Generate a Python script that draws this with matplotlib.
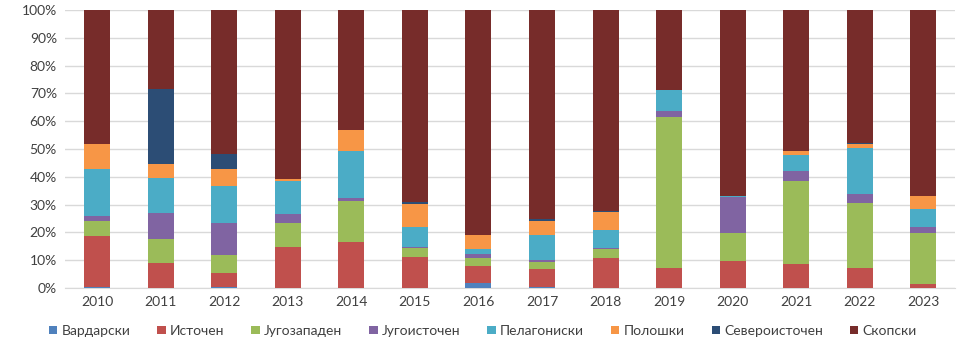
import matplotlib
matplotlib.use("Agg")
import matplotlib.pyplot as plt
import numpy as np

years = ["2010", "2011", "2012", "2013", "2014", "2015", "2016",
         "2017", "2018", "2019", "2020", "2021", "2022", "2023"]

vardarski     = [0.3, 0.0, 0.3, 0.0, 0.0, 0.0, 1.7, 0.3, 0.0, 0.0, 0.0, 0.0, 0.0, 0.0]
istochen      = [18.6, 9.1, 5.0, 14.9, 16.5, 11.3, 6.3, 6.4, 11.0, 7.4, 9.6, 8.6, 7.1, 1.6]
jugozapaden   = [5.2, 8.4, 6.5, 8.5, 14.7, 3.0, 3.0, 2.8, 3.1, 54.2, 10.1, 29.8, 23.7, 18.1]
jugoistochen  = [1.8, 9.6, 11.6, 3.1, 1.2, 0.6, 1.2, 0.6, 0.4, 2.2, 12.9, 3.8, 3.1, 2.1]
pelagoniski   = [16.9, 12.6, 13.3, 12.0, 17.0, 6.9, 1.7, 9.0, 6.5, 7.4, 0.5, 5.5, 16.6, 6.5]
poloshki      = [9.1, 4.9, 6.3, 0.9, 7.3, 8.4, 5.3, 4.9, 6.5, 0.0, 0.0, 1.7, 1.5, 4.8]
severoistochen = [0.0, 27.0, 5.1, 0.0, 0.0, 0.9, 0.0, 0.7, 0.3, 0.0, 0.0, 0.0, 0.2, 0.0]
skopski       = [48.1, 28.4, 51.9, 60.6, 43.3, 68.9, 80.8, 75.3, 72.2, 28.8, 66.9, 50.6, 48.0, 66.9]

series_names = ["Вардарски", "Источен", "Југозападен", "Југоисточен",
                "Пелагониски", "Полошки", "Североисточен", "Скопски"]
series_values = [vardarski, istochen, jugozapaden, jugoistochen,
                 pelagoniski, poloshki, severoistochen, skopski]
colors = ["#4F81BD", "#C0504D", "#9BBB59", "#8064A2",
          "#4BACC6", "#F79646", "#2C4D75", "#772C2A"]

plt.rcParams['font.family'] = ['Lato', 'DejaVu Sans']

fig = plt.figure(figsize=(9.6, 3.57), dpi=100)
ax = fig.add_axes([0.068, 0.193, 0.927, 0.779])

x = np.arange(len(years))
data = np.array(series_values, dtype=float)
totals = data.sum(axis=0)
pct = data / totals * 100
bottom = np.zeros(len(years))
for name, vals, c in zip(series_names, pct, colors):
    ax.bar(x, vals, bottom=bottom, width=0.41, color=c, label=name, zorder=3)
    bottom += vals

ax.set_ylim(0, 100)
ax.set_xlim(-0.5, len(years) - 0.5)
ax.set_yticks(np.arange(0, 101, 10))
ax.set_yticklabels([f"{v}%" for v in range(0, 101, 10)], fontsize=10, color="#404040")
ax.set_xticks(x)
ax.set_xticklabels(years, fontsize=10, color="#404040")
ax.yaxis.grid(True, color="#D9D9D9", linewidth=1, zorder=0)
ax.set_axisbelow(True)
for s in ["top", "right", "left"]:
    ax.spines[s].set_visible(False)
ax.spines["bottom"].set_color("#D9D9D9")
ax.tick_params(axis="both", length=0, pad=6)

leg = fig.legend(loc="center", bbox_to_anchor=(0.503, 0.073), ncol=8, frameon=False,
                 fontsize=10, handlelength=0.6, handleheight=0.6, handletextpad=0.3,
                 columnspacing=1.95)
for t in leg.get_texts():
    t.set_color("#404040")

fig.savefig("out.png", dpi=100)
